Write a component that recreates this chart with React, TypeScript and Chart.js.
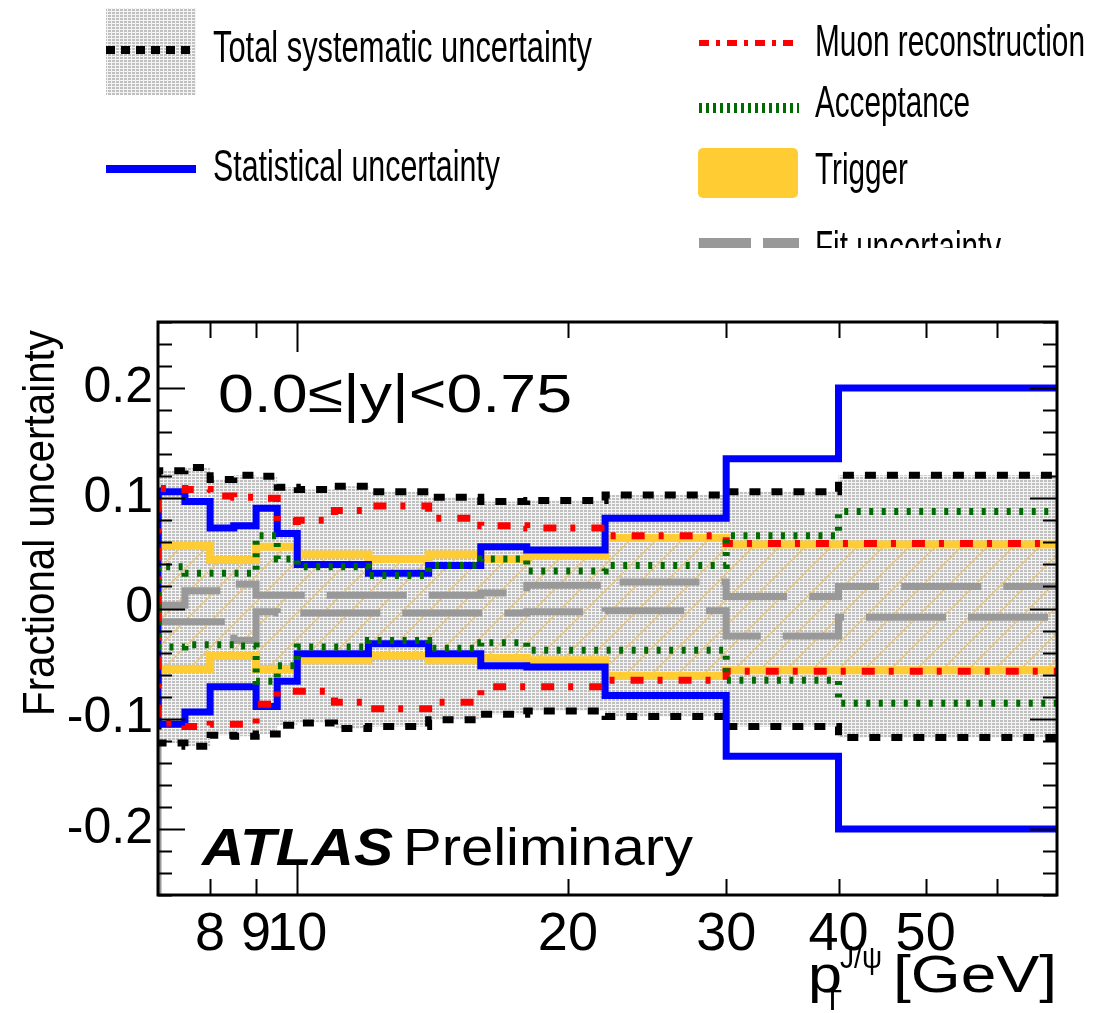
import React, { useEffect, useRef } from 'react';
import { Chart, registerables } from 'chart.js';

Chart.register(...registerables);

// ---------- data ----------
const binEdges = [7, 7.5, 8, 8.5, 9, 9.5, 10, 11, 12, 14, 16, 18, 22, 30, 40, 70];
const statUp = [0.106, 0.097, 0.073, 0.075, 0.091, 0.068, 0.04, 0.04, 0.032, 0.039, 0.056, 0.053, 0.082, 0.136, 0.2];
const statDown = [-0.105, -0.094, -0.071, -0.071, -0.089, -0.066, -0.041, -0.041, -0.032, -0.041, -0.052, -0.053, -0.079, -0.134, -0.2];
const totUp = [0.125, 0.128, 0.117, 0.121, 0.12, 0.11, 0.108, 0.111, 0.106, 0.101, 0.097, 0.098, 0.103, 0.106, 0.121];
const totDown = [-0.122, -0.125, -0.115, -0.116, -0.114, -0.106, -0.104, -0.109, -0.107, -0.101, -0.096, -0.093, -0.098, -0.107, -0.117];
const muonUp = [0.109, 0.108, 0.102, 0.101, 0.1, 0.079, 0.08, 0.089, 0.093, 0.082, 0.075, 0.073, 0.066, 0.059, 0.059];
const muonDown = [-0.104, -0.107, -0.105, -0.105, -0.087, -0.075, -0.075, -0.085, -0.091, -0.085, -0.071, -0.071, -0.065, -0.057, -0.057];
const accUp = [0.038, 0.032, 0.032, 0.032, 0.066, 0.045, 0.038, 0.038, 0.03, 0.039, 0.045, 0.034, 0.039, 0.066, 0.088];
const accDown = [-0.035, -0.033, -0.033, -0.034, -0.066, -0.052, -0.035, -0.035, -0.029, -0.036, -0.031, -0.038, -0.038, -0.065, -0.086];
const trigUp = [0.057, 0.057, 0.044, 0.044, 0.056, 0.056, 0.049, 0.049, 0.045, 0.049, 0.045, 0.048, 0.064, 0.058, 0.058];
const trigDown = [-0.055, -0.055, -0.043, -0.043, -0.055, -0.055, -0.047, -0.047, -0.043, -0.047, -0.045, -0.047, -0.061, -0.056, -0.056];
const fitUp = [0.003, 0.016, 0.016, 0.022, 0.012, 0.012, 0.012, 0.012, 0.012, 0.012, 0.014, 0.021, 0.024, 0.011, 0.02];
const fitDown = [-0.012, -0.012, -0.012, -0.029, -0.003, -0.004, -0.004, -0.004, -0.004, -0.004, -0.004, -0.003, -0.002, -0.025, -0.008];
const edgeLineX = [7, 7];
const edgeLineY = [0, -0.26];

const xTickValues = [8, 9, 10, 20, 30, 40, 50, 60];
const xTickLabels = ['8', '9', '10', '20', '30', '40', '50', ''];
const yTickValues = [-0.2, -0.1, 0, 0.1, 0.2];
const yTickLabels = ['-0.2', '-0.1', '0', '0.1', '0.2'];

const legendLabels = [
  'Total systematic uncertainty',
  'Statistical uncertainty',
  'Muon reconstruction',
  'Acceptance',
  'Trigger',
  'Fit uncertainty',
];
const rapidityLabel = '0.0\u2264|y|<0.75';

// ---------- helpers ----------
const SANS = '"Liberation Sans", Arial, Helvetica, sans-serif';
const NARROW = '"Liberation Sans Narrow", "Liberation Sans", Arial, sans-serif';

function histPoints(vals: number[]) {
  const pts: { x: number; y: number }[] = [{ x: binEdges[0], y: 0 }];
  for (let i = 0; i < vals.length; i++) pts.push({ x: binEdges[i], y: vals[i] });
  pts.push({ x: binEdges[binEdges.length - 1], y: vals[vals.length - 1] });
  return pts;
}

function makeDotPattern(ctx: CanvasRenderingContext2D) {
  const c = document.createElement('canvas');
  c.width = 4;
  c.height = 3;
  const g = c.getContext('2d')!;
  g.fillStyle = '#f4f4f4';
  g.fillRect(0, 0, 4, 3);
  g.fillStyle = '#c0c0c0';
  g.fillRect(0, 0, 3, 2);
  return ctx.createPattern(c, 'repeat')!;
}

function makeHatchPattern(ctx: CanvasRenderingContext2D) {
  const c = document.createElement('canvas');
  c.width = 26;
  c.height = 26;
  const g = c.getContext('2d')!;
  g.strokeStyle = '#eec46a';
  g.lineWidth = 1.3;
  g.beginPath();
  g.moveTo(-1, 27);
  g.lineTo(27, -1);
  g.stroke();
  return ctx.createPattern(c, 'repeat')!;
}

function stretchText(
  ctx: CanvasRenderingContext2D,
  text: string,
  x: number,
  y: number,
  width: number,
  font: string,
  color = '#000'
) {
  ctx.save();
  ctx.font = font;
  ctx.fillStyle = color;
  ctx.textAlign = 'left';
  ctx.textBaseline = 'alphabetic';
  const w = ctx.measureText(text).width || 1;
  ctx.translate(x, y);
  ctx.scale(width / w, 1);
  ctx.fillText(text, 0, 0);
  ctx.restore();
}

function seg(ctx: CanvasRenderingContext2D, x1: number, y1: number, x2: number, y2: number, color: string, w: number, dash: number[] = []) {
  ctx.save();
  ctx.strokeStyle = color;
  ctx.lineWidth = w;
  ctx.setLineDash(dash);
  ctx.lineCap = 'butt';
  ctx.beginPath();
  ctx.moveTo(x1, y1);
  ctx.lineTo(x2, y2);
  ctx.stroke();
  ctx.restore();
}

export default function App() {
  const ref = useRef<HTMLCanvasElement | null>(null);

  useEffect(() => {
    const canvas = ref.current;
    if (!canvas) return;
    const ctx0 = canvas.getContext('2d')!;
    const dots = makeDotPattern(ctx0);
    const hatch = makeHatchPattern(ctx0);

    const decor = {
      id: 'decor',
      afterDraw(chart: any) {
        const ctx: CanvasRenderingContext2D = chart.ctx;
        const { left, right, top, bottom } = chart.chartArea;
        const xs = chart.scales.x;
        const ys = chart.scales.y;

        // ticks (inside, ROOT style)
        ctx.save();
        ctx.strokeStyle = '#000';
        ctx.lineWidth = 2;
        for (let k = -13; k <= 13; k++) {
          const v = k * 0.02;
          const py = Math.round(ys.getPixelForValue(v)) + 0.5;
          const len = k % 5 === 0 ? 27 : 14;
          ctx.beginPath();
          ctx.moveTo(left, py);
          ctx.lineTo(left + len, py);
          ctx.moveTo(right, py);
          ctx.lineTo(right - len, py);
          ctx.stroke();
        }
        xTickValues.forEach((v) => {
          const px = Math.round(xs.getPixelForValue(v)) + 0.5;
          const len = v === 10 ? 30 : 16;
          ctx.beginPath();
          ctx.moveTo(px, bottom);
          ctx.lineTo(px, bottom - len);
          ctx.moveTo(px, top);
          ctx.lineTo(px, top + len);
          ctx.stroke();
        });
        // frame
        ctx.lineWidth = 3;
        ctx.strokeRect(left, top, right - left, bottom - top);
        ctx.restore();

        // in-plot labels
        stretchText(ctx, rapidityLabel, 218, 412, 354, `54px ${SANS}`);
        stretchText(ctx, 'ATLAS', 202, 865, 191, `italic bold 51px ${SANS}`);
        stretchText(ctx, 'Preliminary', 403, 865, 290, `51px ${SANS}`);

        // y title
        ctx.save();
        ctx.translate(54, 716);
        ctx.rotate(-Math.PI / 2);
        stretchText(ctx, 'Fractional uncertainty', 0, 0, 386, `44px ${NARROW}`);
        ctx.restore();

        // x title
        stretchText(ctx, 'p', 808, 992, 34, `52px ${SANS}`);
        stretchText(ctx, 'T', 823, 1010, 19, `30px ${SANS}`);
        stretchText(ctx, 'J/\u03c8', 840, 968, 42, `32px ${NARROW}`);
        stretchText(ctx, '[GeV]', 893, 992, 164, `52px ${SANS}`);

        // legend
        ctx.save();
        ctx.beginPath();
        ctx.rect(0, 0, 1105, 248);
        ctx.clip();
        ctx.fillStyle = dots;
        ctx.fillRect(106, 8, 90, 87);
        seg(ctx, 106, 50, 196, 50, '#000', 8, [9, 6]);
        seg(ctx, 106, 169, 196, 169, '#0000ff', 8);
        seg(ctx, 699, 43, 799, 43, '#ff0000', 6, [10, 7, 4, 7]);
        seg(ctx, 699, 108, 799, 108, '#006b00', 10, [3, 4]);
        ctx.fillStyle = '#ffcc33';
        ctx.beginPath();
        (ctx as any).roundRect ? (ctx as any).roundRect(698, 148, 100, 50, 5) : ctx.rect(698, 148, 100, 50);
        ctx.fill();
        seg(ctx, 699, 243, 751, 243, '#999999', 10);
        seg(ctx, 763, 243, 799, 243, '#999999', 10);

        stretchText(ctx, legendLabels[0], 213, 62, 379, `45px ${NARROW}`);
        stretchText(ctx, legendLabels[1], 213, 181, 287, `45px ${NARROW}`);
        stretchText(ctx, legendLabels[2], 815, 56, 270, `45px ${NARROW}`);
        stretchText(ctx, legendLabels[3], 815, 117, 155, `45px ${NARROW}`);
        stretchText(ctx, legendLabels[4], 815, 184, 93, `45px ${NARROW}`);
        stretchText(ctx, legendLabels[5], 815, 262, 186, `45px ${NARROW}`);
        ctx.restore();
      },
    };

    const line = (data: any[], color: string, width: number, dash: number[] = [], extra: any = {}) => ({
      data,
      borderColor: color,
      borderWidth: width,
      borderDash: dash,
      stepped: true,
      pointRadius: 0,
      fill: false,
      tension: 0,
      ...extra,
    });

    const chart = new Chart(canvas, {
      type: 'line',
      data: {
        datasets: [
          line(histPoints(accUp), '#006b00', 7, [4, 8.5]),
          line(histPoints(accDown), '#006b00', 7, [4, 8.5]),
          line(histPoints(muonUp), '#ff0000', 7, [13, 14, 5, 16]),
          line(histPoints(muonDown), '#ff0000', 7, [13, 14, 5, 16]),
          line(histPoints(statUp), '#0000ff', 7),
          line(histPoints(statDown), '#0000ff', 7),
          line(histPoints(fitUp), '#999999', 7, [80, 22]),
          line(histPoints(fitDown), '#999999', 7, [80, 22]),
          line(histPoints(trigUp), '#ffcc33', 8),
          line(histPoints(trigDown), '#ffcc33', 8, [], { fill: '-1', backgroundColor: hatch }),
          line(histPoints(totUp), '#000000', 7, [11, 11]),
          line(histPoints(totDown), '#000000', 7, [11, 11], { fill: '-1', backgroundColor: dots }),
          line(edgeLineX.map((x, i) => ({ x, y: edgeLineY[i] })), '#999999', 7, [], { stepped: false }),
        ] as any,
      },
      options: {
        animation: false,
        responsive: false,
        events: [],
        layout: { padding: { left: 8, top: 322, right: 48, bottom: 0 } },
        plugins: {
          legend: { display: false },
          tooltip: { enabled: false },
          title: { display: false },
        },
        scales: {
          x: {
            type: 'logarithmic',
            min: 7,
            max: 70,
            afterBuildTicks: (s: any) => {
              s.ticks = xTickValues.map((v) => ({ value: v }));
            },
            afterFit: (s: any) => {
              s.height = 118;
            },
            grid: { display: false, drawTicks: false },
            border: { display: false },
            ticks: {
              autoSkip: false,
              maxRotation: 0,
              minRotation: 0,
              padding: 8,
              color: '#000',
              font: { family: SANS, size: 54 },
              callback: (v: any) => {
                const i = xTickValues.findIndex((t) => Math.abs(t - Number(v)) < 1e-9);
                return i >= 0 ? xTickLabels[i] : '';
              },
            },
          },
          y: {
            type: 'linear',
            min: -0.26,
            max: 0.26,
            afterBuildTicks: (s: any) => {
              s.ticks = yTickValues.map((v) => ({ value: v }));
            },
            afterFit: (s: any) => {
              s.width = 150;
            },
            grid: { display: false, drawTicks: false },
            border: { display: false },
            ticks: {
              autoSkip: false,
              padding: 5,
              color: '#000',
              font: { family: SANS, size: 50 },
              callback: (v: any) => {
                const i = yTickValues.findIndex((t) => Math.abs(t - Number(v)) < 1e-9);
                return i >= 0 ? yTickLabels[i] : '';
              },
            },
          },
        },
      } as any,
      plugins: [decor],
    });

    return () => {
      chart.destroy();
    };
  }, []);

  return (
    <div style={{ position: 'absolute', left: 0, top: 0, width: 1105, height: 1013, background: '#fff' }}>
      <canvas ref={ref} width={1105} height={1013} style={{ display: 'block' }} />
    </div>
  );
}
